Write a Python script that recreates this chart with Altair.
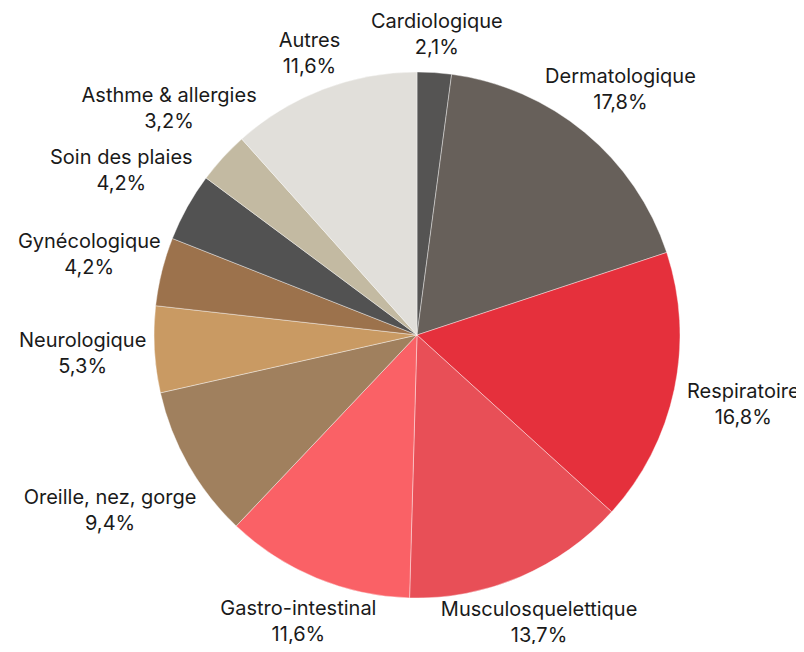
import math
import altair as alt
import pandas as pd

categories = ["Cardiologique", "Dermatologique", "Respiratoire", "Musculosquelettique",
              "Gastro-intestinal", "Oreille, nez, gorge", "Neurologique", "Gynécologique",
              "Soin des plaies", "Asthme & allergies", "Autres"]
values = [2.1, 17.8, 16.8, 13.7, 11.6, 9.4, 5.3, 4.2, 4.2, 3.2, 11.6]
colors = ["#555453", "#67605a", "#e5303c", "#e84f57", "#fa6166", "#a0805e",
          "#c99a63", "#9c724c", "#525252", "#c3baa2", "#e1dfda"]

PIE_R = 263
LABEL_GAP = 12
CHAR_W = 10.0
BLOCK_H = 52
FONT_SIZE = 20
LINE_H = 26

total = sum(values)
rows = []
cum = 0.0
for i, (c, v) in enumerate(zip(categories, values)):
    mid = (cum + v / 2) / total * 2 * math.pi
    cum += v
    w = len(c) * CHAR_W
    ext = (w / 2) * math.sin(mid) ** 2 + (BLOCK_H / 2) * math.cos(mid) ** 2
    rows.append({
        "idx": i,
        "cat": c,
        "value": v,
        "label": c + "\n" + f"{v:.1f}".replace(".", ",") + "%",
        "tm": mid,
        "lr": PIE_R + LABEL_GAP + ext,
    })
df = pd.DataFrame(rows)

cx, cy = 409, 327

pie = alt.Chart(df).mark_arc(radius=PIE_R, stroke="#ffffff", strokeWidth=0.4).encode(
    theta=alt.Theta("value:Q", stack=True),
    order=alt.Order("idx:Q"),
    x=alt.value(cx),
    y=alt.value(cy),
    color=alt.Color("cat:N", scale=alt.Scale(domain=categories, range=colors), legend=None),
)

text = alt.Chart(df).mark_text(font="Inter", fontSize=FONT_SIZE, lineBreak="\n", lineHeight=LINE_H,
                               align="center", baseline="middle", dy=-12, color="#1a1a1a").encode(
    theta=alt.Theta("tm:Q", scale=None, stack=None),
    radius=alt.Radius("lr:Q", scale=None),
    x=alt.value(cx),
    y=alt.value(cy),
    text="label:N",
)

chart = alt.layer(pie, text).properties(
    width=788, height=636,
    autosize=alt.AutoSizeParams(type="none"),
    padding=0,
).configure_view(stroke=None)

chart.save("out.html", embed_options={"renderer": "svg", "actions": False})
